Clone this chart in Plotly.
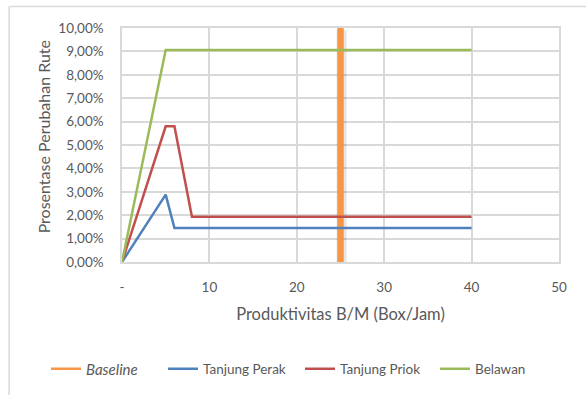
import plotly.graph_objects as go

# Productivity of the berth/machine (Box/Jam) and the route-change share (%)
produktivitas = [0, 5, 6, 8, 10, 20, 30, 40]
tanjung_perak = [0.00, 2.88, 1.45, 1.45, 1.45, 1.45, 1.45, 1.45]
tanjung_priok = [0.00, 5.80, 5.80, 1.93, 1.93, 1.93, 1.93, 1.93]
belawan = [0.00, 9.06, 9.06, 9.06, 9.06, 9.06, 9.06, 9.06]

# Baseline productivity marker
baseline_x = [25, 25]
baseline_y = [0, 10]

x_ticks = [0, 10, 20, 30, 40, 50]
x_ticktext = ["-", "10", "20", "30", "40", "50"]
y_ticks = list(range(0, 11))
y_ticktext = [f"{v:.2f}%".replace(".", ",") for v in y_ticks]

FONT = "Lato, 'Noto Sans', sans-serif"
GREY_TEXT = "#595959"
GRID = "#D9D9D9"
ORANGE, BLUE, RED, GREEN = "#F79646", "#4F81BD", "#C0504D", "#9BBB59"

W, H = 586, 395
L, R, T, B = 121.5, 27, 28, 132.5
PW, PH = W - L - R, H - T - B
LEGEND_Y = 369                       # legend row centre (px from top)
LEGEND_X = [46, 163, 300, 435]       # left edge of each legend entry (px)


def px_x(px):
    return (px - L) / PW


def px_y(py):
    return (H - B - py) / PH


fig = go.Figure()

# soft drop shadow under the baseline bar
fig.add_trace(go.Scatter(
    x=[v + 0.12 for v in baseline_x], y=[baseline_y[0] - 0.25, baseline_y[1] - 0.1],
    mode="lines", line=dict(color="rgba(0,0,0,0.10)", width=10),
    showlegend=False, hoverinfo="skip", cliponaxis=False,
))
fig.add_trace(go.Scatter(
    x=baseline_x, y=baseline_y, mode="lines", name="Baseline",
    line=dict(color=ORANGE, width=6.5), cliponaxis=False,
    showlegend=False,
))
# thin legend entry for the baseline
fig.add_trace(go.Scatter(
    x=[None], y=[None], mode="lines", name="<i>Baseline</i>",
    line=dict(color=ORANGE, width=2.5), legend="legend",
))
fig.add_trace(go.Scatter(
    x=produktivitas, y=tanjung_perak, mode="lines", name="Tanjung Perak",
    line=dict(color=BLUE, width=2.5), legend="legend2",
))
fig.add_trace(go.Scatter(
    x=produktivitas, y=tanjung_priok, mode="lines", name="Tanjung Priok",
    line=dict(color=RED, width=2.5), legend="legend3",
))
fig.add_trace(go.Scatter(
    x=produktivitas, y=belawan, mode="lines", name="Belawan",
    line=dict(color=GREEN, width=2.5), legend="legend4",
))

# outer chart border (top and left edges)
fig.add_shape(type="line", xref="paper", yref="paper",
              x0=px_x(8.5), x1=px_x(W + 5), y0=px_y(6.5), y1=px_y(6.5),
              line=dict(color=GRID, width=1.5))
fig.add_shape(type="line", xref="paper", yref="paper",
              x0=px_x(8.5), x1=px_x(8.5), y0=px_y(6.5), y1=px_y(H + 5),
              line=dict(color=GRID, width=1.5))

# y-axis title
fig.add_annotation(
    text="Prosentase Perubahan Rute", textangle=-90,
    xref="paper", yref="paper", x=px_x(42.5), y=px_y(137.5),
    xanchor="center", yanchor="middle", showarrow=False,
    font=dict(size=16, color=GREY_TEXT, family=FONT),
)


def legend_box(left_px, size=13.5):
    return dict(
        orientation="h", xref="container", yref="container",
        x=left_px / W, xanchor="left", y=(H - LEGEND_Y) / H, yanchor="middle",
        font=dict(size=size, color=GREY_TEXT, family=FONT),
        itemwidth=30, bgcolor="rgba(0,0,0,0)",
    )


fig.update_layout(
    width=W, height=H,
    margin=dict(l=L, r=R, t=T, b=B, autoexpand=False),
    paper_bgcolor="white", plot_bgcolor="white",
    font=dict(family=FONT, color=GREY_TEXT, size=13),
    showlegend=True,
    legend=legend_box(LEGEND_X[0], size=15),
    legend2=legend_box(LEGEND_X[1]),
    legend3=legend_box(LEGEND_X[2]),
    legend4=legend_box(LEGEND_X[3]),
    xaxis=dict(
        range=[0, 50], tickvals=x_ticks, ticktext=x_ticktext,
        showgrid=True, gridcolor=GRID, gridwidth=1.5,
        showline=True, linecolor=GRID, linewidth=1.5, mirror=True,
        zeroline=False, ticks="outside", ticklen=12, tickcolor="rgba(0,0,0,0)",
        tickfont=dict(size=13.5, color=GREY_TEXT),
        title=dict(text="Produktivitas B/M (Box/Jam)", standoff=14,
                   font=dict(size=16.5, color=GREY_TEXT)),
    ),
    yaxis=dict(
        range=[0, 10], tickvals=y_ticks, ticktext=y_ticktext,
        showgrid=True, gridcolor=GRID, gridwidth=1.5,
        showline=True, linecolor=GRID, linewidth=1.5, mirror=True,
        zeroline=False, ticks="outside", ticklen=14, tickcolor="rgba(0,0,0,0)",
        tickfont=dict(size=13.5, color=GREY_TEXT),
    ),
)

fig.write_html("out.html")
